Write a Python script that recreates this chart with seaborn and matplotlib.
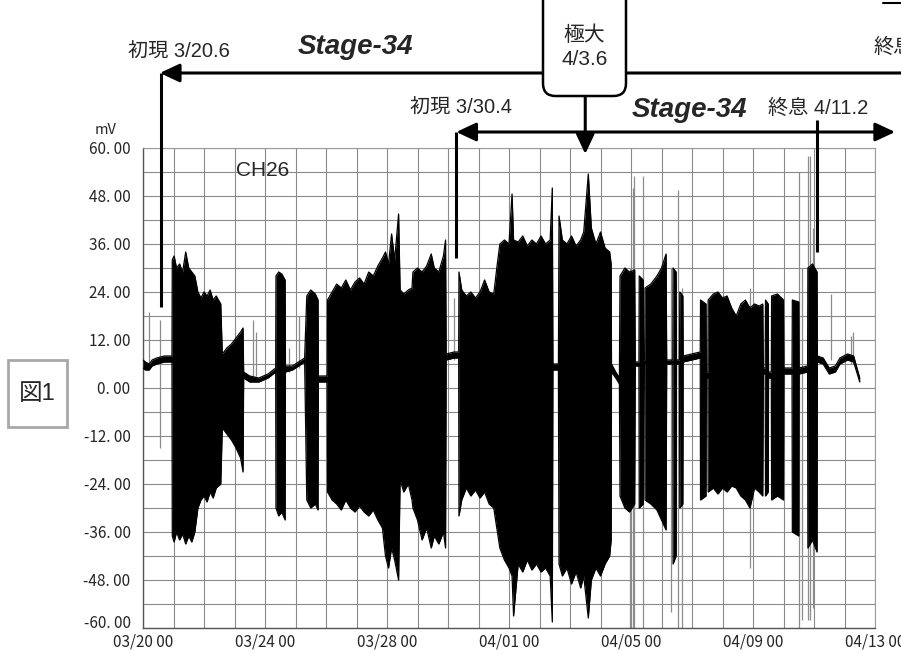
import numpy as np
import pandas as pd
import matplotlib
matplotlib.use('Agg')
import matplotlib.pyplot as plt
import matplotlib.transforms as mtransforms
import seaborn as sns
from matplotlib.patches import FancyBboxPatch, Rectangle
from matplotlib.lines import Line2D

# --- data: envelope of the CH26 record (days from 03/20 00, mV) ---
env_day = [0.00, 0.08, 0.20, 0.30, 0.45, 0.70, 0.95,
           0.96, 1.02, 1.10, 1.20, 1.30, 1.40, 1.50, 1.60, 1.70, 1.80, 1.90, 2.00, 2.10, 2.20, 2.30, 2.40, 2.55,
           2.60, 2.75, 2.90, 3.05, 3.20, 3.28,
           3.30, 3.50, 3.80, 4.10, 4.35,
           4.36, 4.45, 4.55, 4.66,
           4.67, 4.90, 5.10, 5.30,
           5.37, 5.50, 5.65, 5.74,
           5.75, 6.04,
           6.05, 6.20, 6.35, 6.50, 6.65, 6.80, 6.95, 7.10, 7.25, 7.40, 7.55, 7.70, 7.85, 7.95, 8.05, 8.15, 8.25, 8.38,
           8.43, 8.55, 8.70, 8.82, 8.85, 9.00, 9.15, 9.30, 9.45, 9.55, 9.70, 9.85, 9.92,
           9.94, 10.20, 10.35,
           10.36, 10.45, 10.60, 10.75, 10.90, 11.05, 11.20, 11.35, 11.50, 11.60, 11.70, 11.85, 12.00, 12.10, 12.15,
           12.30, 12.45, 12.60, 12.75, 12.90, 13.05, 13.20, 13.35, 13.42,
           13.44, 13.62,
           13.64, 13.75, 13.90, 14.05, 14.20, 14.35, 14.45, 14.60, 14.70, 14.85, 15.00, 15.15, 15.30, 15.35,
           15.36, 15.50, 15.62,
           15.64, 15.80, 15.95, 16.12,
           16.14, 16.26,
           16.27, 16.40,
           16.41, 16.45,
           16.46, 16.65, 16.85, 17.00, 17.15,
           17.17, 17.37,
           17.38, 17.48,
           17.49, 17.59,
           17.60, 17.70,
           17.71, 18.27,
           18.28, 18.46,
           18.47, 18.52,
           18.53, 18.70, 18.85, 19.00, 19.15, 19.30, 19.45, 19.60, 19.75, 19.90, 20.05, 20.20, 20.32,
           20.34, 20.40,
           20.41, 20.50,
           20.51, 20.60,
           20.61, 20.80, 21.00,
           21.01, 21.28,
           21.29, 21.50,
           21.51, 21.79,
           21.80, 21.95, 22.10,
           22.11, 22.30, 22.50, 22.70, 22.85, 23.10, 23.30, 23.50]
env_hi = [7.0, 6.5, 6.0, 7.0, 7.5, 8.0, 8.0,
          32.0, 33.0, 30.0, 31.0, 29.0, 34.0, 30.0, 29.0, 28.0, 24.0, 22.5, 24.0, 23.0, 24.5, 22.0, 23.0, 21.0,
          8.5, 10.0, 11.0, 12.5, 14.0, 15.0,
          4.0, 3.0, 2.5, 3.5, 5.0,
          28.0, 29.0, 28.5, 27.0,
          5.5, 5.5, 6.5, 7.5,
          23.0, 24.5, 23.5, 22.0,
          3.0, 3.0,
          22.0, 24.0, 26.0, 25.0, 27.0, 24.5, 26.5, 27.5, 26.0, 29.0, 28.0, 30.5, 32.5, 34.0, 31.0, 38.5, 32.0, 43.5,
          24.5, 23.5, 24.5, 25.0, 29.0, 30.0, 29.0, 30.5, 33.5, 30.0, 29.0, 33.0, 37.0,
          8.5, 9.0, 9.0,
          29.0, 24.5, 23.0, 24.0, 22.5, 24.0, 27.0, 24.0, 23.5, 30.0, 36.0, 37.0, 36.0, 48.5, 37.0,
          36.5, 38.0, 35.5, 37.0, 36.0, 38.0, 36.0, 37.0, 50.0,
          6.0, 6.0,
          43.0, 37.0, 36.0, 38.0, 35.5, 37.0, 39.0, 53.5, 40.0, 36.0, 39.0, 35.0, 34.0, 31.0,
          6.0, 4.0, 2.5,
          28.0, 30.0, 29.0, 29.5,
          6.5, 6.5,
          28.0, 27.0,
          7.0, 7.0,
          25.0, 26.0, 28.0, 30.0, 33.5,
          7.0, 7.0,
          30.0, 29.0,
          7.0, 7.0,
          24.0, 23.0,
          8.0, 9.0,
          22.0, 21.0,
          4.0, 4.0,
          22.0, 23.5, 24.0, 22.5, 23.0, 20.0, 18.0, 21.0, 22.0, 20.0, 21.0, 20.5, 21.0,
          5.0, 5.0,
          22.0, 21.0,
          4.0, 4.0,
          23.0, 23.5, 22.0,
          5.0, 5.0,
          22.0, 21.5,
          5.0, 5.5,
          30.0, 31.0, 29.0,
          8.0, 7.5, 5.0, 5.5, 7.5, 8.5, 8.0, 2.5]
env_lo = [5.0, 4.5, 4.5, 5.5, 6.0, 6.5, 6.5,
          -37.0, -38.5, -36.0, -38.0, -36.5, -39.0, -37.0, -38.5, -36.0, -30.0, -28.0, -27.0, -28.5, -26.0, -27.5, -25.0, -24.0,
          -10.0, -11.5, -13.0, -15.0, -17.5, -21.0,
          2.5, 1.5, 1.5, 2.5, 4.0,
          -30.0, -32.0, -31.0, -33.0,
          4.0, 4.5, 5.5, 6.5,
          -28.0, -30.0, -29.0, -30.5,
          1.5, 1.5,
          -26.0, -28.0, -29.0, -30.5, -28.0, -30.0, -31.0, -29.5, -31.0, -32.0, -30.5, -33.0, -35.0, -42.0, -45.0, -40.0, -43.0, -48.0,
          -23.0, -26.0, -24.0, -28.0, -30.0, -33.0, -38.0, -35.0, -40.0, -37.0, -39.0, -36.0, -40.0,
          7.0, 7.5, 7.5,
          -32.0, -28.0, -25.0, -27.0, -25.5, -27.5, -26.0, -29.0, -30.0, -35.0, -40.0, -43.0, -45.0, -47.0, -57.0,
          -44.0, -46.0, -43.0, -45.5, -44.0, -46.0, -45.0, -47.0, -58.5,
          4.5, 4.5,
          -44.0, -47.0, -45.0, -49.0, -46.0, -50.0, -47.0, -57.5, -48.0, -45.0, -47.0, -44.0, -42.0, -38.0,
          4.0, 2.5, 1.0,
          -27.0, -30.0, -31.0, -29.0,
          5.5, 5.5,
          -30.0, -29.0,
          6.0, 6.0,
          -28.0, -29.0, -30.5, -33.0, -35.5,
          6.0, 6.0,
          -44.0, -42.0,
          6.0, 6.0,
          -30.0, -29.0,
          6.5, 7.5,
          -28.0, -27.0,
          2.5, 2.5,
          -26.0, -25.0, -26.5, -25.0, -26.0, -24.5, -25.0, -27.0, -28.0, -30.0, -25.0, -26.0, -27.0,
          3.5, 3.5,
          -27.0, -26.0,
          2.5, 2.5,
          -28.0, -27.0, -28.0,
          3.5, 3.5,
          -36.0, -37.0,
          3.5, 4.0,
          -40.0, -38.0, -41.0,
          6.5, 6.0, 3.5, 4.0, 6.0, 7.0, 6.5, 1.5]

# isolated spikes (thin grey lines)
spike_day = [0.20, 0.56, 3.60, 3.70, 4.80, 5.10, 10.20, 15.97, 16.05, 16.11, 16.40,
             17.30, 17.54, 17.67, 19.90, 21.50, 21.62, 21.80, 21.88, 21.97, 22.55, 23.20, 23.28]
spike_hi = [19.0, 17.0, 17.0, 14.0, 10.0, 18.0, 22.5, 30.0, 50.0, 53.0, 53.0,
            30.0, 49.5, 25.0, 25.0, 54.0, 30.0, 58.0, 58.0, 40.0, 23.5, 13.0, 14.0]
spike_lo = [6.0, -15.0, 3.0, 3.0, 4.0, 5.0, 7.0, -60.0, -60.0, -60.0, -60.0,
            -56.0, -60.0, -60.0, -45.0, -60.0, -58.0, -58.0, -58.0, -55.0, 7.0, 6.0, 6.0]

x_ticks = [0, 4, 8, 12, 16, 20, 24]
x_labels = ['03/20 00', '03/24 00', '03/28 00', '04/01 00', '04/05 00', '04/09 00', '04/13 00']
y_ticks = [-60, -48, -36, -24, -12, 0, 12, 24, 36, 48, 60]
y_labels = ['-60. 00', '-48. 00', '-36. 00', '-24. 00', '-12. 00', '0. 00',
            '12. 00', '24. 00', '36. 00', '48. 00', '60. 00']

df = pd.DataFrame({'day': env_day, 'hi': env_hi, 'lo': env_lo})

sns.set_style('white')
plt.rcParams['font.family'] = ['Noto Sans CJK JP', 'DejaVu Sans']
LAT = ['Liberation Sans', 'Noto Sans CJK JP']

W, H = 901, 668
fig = plt.figure(figsize=(W / 100, H / 100), dpi=100)
ax = fig.add_axes([143 / W, 40 / H, 732 / W, 480 / H])


def fx(x):
    return x / W


def fy(y):
    return 1 - y / H


# signal
ax.vlines(spike_day, spike_lo, spike_hi, color='#8c8c8c', lw=0.9, zorder=2)
ax.fill_between(df['day'], df['lo'], df['hi'], color='black', lw=0, zorder=3)
sns.lineplot(data=df, x='day', y='hi', color='black', lw=0.9, estimator=None, sort=False, ax=ax, zorder=3)
sns.lineplot(data=df, x='day', y='lo', color='black', lw=0.9, estimator=None, sort=False, ax=ax, zorder=3)

ax.set_xlim(0, 24)
ax.set_ylim(-60, 60)
ax.set_xticks(x_ticks)
ax.set_xticklabels(x_labels)
ax.set_xticks(np.arange(0, 25, 1), minor=True)
ax.set_yticks(y_ticks)
ax.set_yticklabels(y_labels)
ax.set_yticks(np.arange(-60, 61, 6), minor=True)
ax.grid(which='both', color='#8a8a8a', lw=0.8)
ax.set_axisbelow(True)
ax.tick_params(axis='x', which='both', length=0, pad=4, labelsize=11)
ax.tick_params(axis='y', which='both', length=5, color='#808080', width=0.8, pad=4, labelsize=11)
ax.set_xlabel('')
ax.set_ylabel('')
# bottom y label sits a little above its tick in the original
low = ax.get_yticklabels()[0]
low.set_transform(low.get_transform() + mtransforms.ScaledTranslation(0, 0.06, fig.dpi_scale_trans))
for s in ['left', 'bottom']:
    ax.spines[s].set_color('#555555')
    ax.spines[s].set_linewidth(1.0)
for s in ['top', 'right']:
    ax.spines[s].set_color('#9a9a9a')
    ax.spines[s].set_linewidth(0.8)

# --- annotation lines (data coordinates, outside the axes) ---
LW = 2.2
head = dict(color='black', lw=LW, shrinkA=0, shrinkB=0, mutation_scale=20)
# first onset 3/20.6 : L-shaped arrow
ax.plot([0.6, 0.6], [78.75, 20.25], color='black', lw=LW, clip_on=False, solid_capstyle='butt', zorder=4)
ax.annotate('', xy=(0.55, 78.75), xytext=(25.2, 78.75),
            arrowprops=dict(arrowstyle='-|>,head_length=0.6,head_width=0.28', **head),
            annotation_clip=False)
# peak 4/3.6 arrow
ax.annotate('', xy=(14.5, 58.5), xytext=(14.5, 73),
            arrowprops=dict(arrowstyle='-|>,head_length=0.6,head_width=0.28', **head),
            annotation_clip=False)
# second stage 3/30.4 - 4/11.2
ax.annotate('', xy=(10.27, 64), xytext=(24.66, 64),
            arrowprops=dict(arrowstyle='<|-|>,head_length=0.6,head_width=0.28', **head),
            annotation_clip=False)
ax.plot([10.27, 10.27], [64, 32.5], color='black', lw=LW, clip_on=False, solid_capstyle='butt', zorder=4)
ax.plot([22.1, 22.1], [67, 34], color='black', lw=LW, clip_on=False, solid_capstyle='butt', zorder=4)

# --- texts ---
fig.text(fx(179), fy(52), '初現 3/20.6', family=LAT, fontsize=14.5, ha='center', va='center')
fig.text(fx(355), fy(47), 'Stage-34', family='Liberation Sans', weight='bold', style='italic',
         fontsize=20, ha='center', va='center')
fig.text(fx(461), fy(108), '初現 3/30.4', family=LAT, fontsize=14.5, ha='center', va='center')
fig.text(fx(689), fy(110), 'Stage-34', family='Liberation Sans', weight='bold', style='italic',
         fontsize=20, ha='center', va='center')
fig.text(fx(818), fy(108), '終息 4/11.2', family=LAT, fontsize=14.5, ha='center', va='center')
fig.text(fx(873), fy(47), '終息', family=LAT, fontsize=14.5, ha='left', va='center')
fig.add_artist(Line2D([fx(883), fx(905)], [fy(3), fy(3)], color='black', lw=1.5))
fig.text(fx(106), fy(130), 'mV', fontsize=10.5, ha='center', va='center')
ax.text(3.93, 54.5, 'CH26', family='Liberation Sans', fontsize=15, ha='center', va='center')

# peak box
box = FancyBboxPatch((fx(543), fy(96)), fx(83), 0.4, boxstyle='round,pad=0,rounding_size=0.014',
                     mutation_aspect=W / H, transform=fig.transFigure,
                     fc='white', ec='black', lw=1.8, zorder=5)
fig.add_artist(box)
fig.text(fx(584.5), fy(47.5), '極大\n4/3.6', family=LAT, fontsize=15, ha='center', va='center',
         linespacing=1.35, zorder=6)

# figure label
fig.add_artist(Rectangle((fx(8), fy(427)), fx(59), 67 / H, transform=fig.transFigure,
                         fc='white', ec='#a8a8a8', lw=2))
fig.text(fx(37.5), fy(393.5), '図1', family=LAT, fontsize=17, ha='center', va='center', zorder=6)

plt.savefig('out.png', dpi=100)
